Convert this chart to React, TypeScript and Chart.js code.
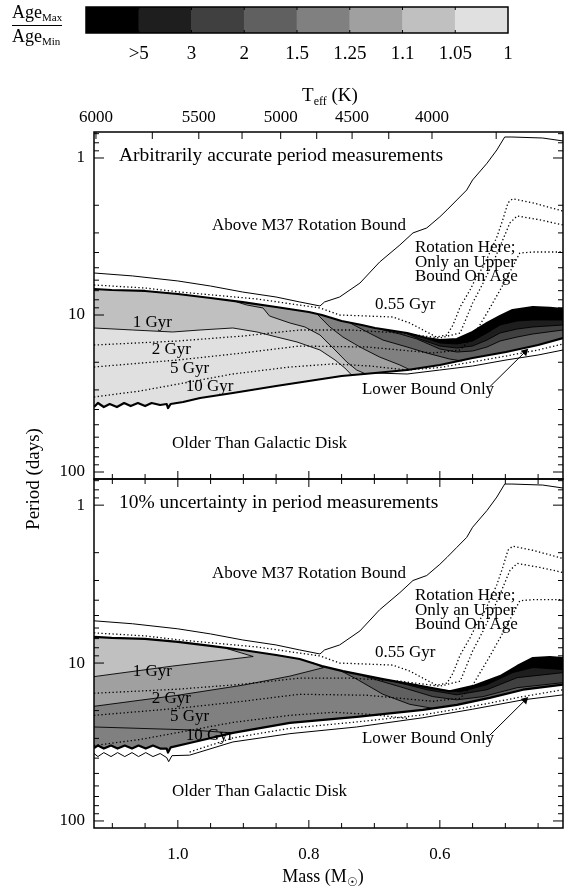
import React, { useEffect, useRef } from 'react';
import { Chart, registerables } from 'chart.js';

Chart.register(...registerables);

const SERIF = '"Liberation Serif", "Times New Roman", Times, serif';
type Pt = [number, number];

// ---------- axes ----------
const MASS_MIN = 0.412;
const MASS_MAX = 1.128;
const PERIOD_MIN = 0.683;
const PERIOD_MAX = 110.8;
const massTicks = [1.1, 1.05, 1.0, 0.95, 0.9, 0.85, 0.8, 0.75, 0.7, 0.65, 0.6, 0.55, 0.5, 0.45];
const massTickLabels = ['', '', '1.0', '', '', '', '0.8', '', '', '', '0.6', '', '', ''];
const teffTickMasses = [1.125, 1.039, 0.968, 0.902, 0.843, 0.788, 0.734, 0.678, 0.612, 0.514];
const teffTickLabels = ['6000', '', '5500', '', '5000', '', '4500', '', '4000', ''];
const periodTicks = [0.7, 0.8, 0.9, 1, 2, 3, 4, 5, 6, 7, 8, 9, 10, 20, 30, 40, 50, 60, 70, 80, 90, 100];
const periodMajor = [1, 10, 100];

// ---------- colour bar ----------
const ratioLabels = ['>5', '3', '2', '1.5', '1.25', '1.1', '1.05', '1'];
const ratioColors = ['#000000', '#1e1e1e', '#404040', '#606060', '#808080', '#a0a0a0', '#c0c0c0', '#e0e0e0'];

// ---------- curves shared by both panels (mass, period) ----------
const m37Bound: Pt[] = [[1.128, 5.4], [1.069, 5.64], [1.0, 6.07], [0.95, 6.54], [0.901, 7.14], [0.85, 7.68], [0.814, 8.26], [0.783, 8.76], [0.776, 8.26], [0.753, 7.68], [0.722, 6.26], [0.692, 4.6], [0.661, 3.58], [0.641, 3.0], [0.62, 2.79], [0.6, 2.37], [0.589, 2.14], [0.574, 1.85], [0.559, 1.6], [0.55, 1.38], [0.528, 1.08], [0.513, 0.889], [0.501, 0.735], [0.49, 0.735], [0.443, 0.746], [0.412, 0.779]];
const iso055: Pt[] = [[1.128, 6.44], [1.05, 6.73], [0.997, 7.14], [0.879, 7.91], [0.783, 9.02], [0.753, 10.0], [0.711, 10.15], [0.672, 10.3], [0.646, 11.24], [0.62, 12.83], [0.605, 13.81], [0.589, 13.41], [0.58, 11.58], [0.569, 8.89], [0.554, 6.93], [0.544, 5.73], [0.534, 4.94], [0.524, 4.03], [0.513, 3.19], [0.504, 2.48], [0.496, 1.93], [0.489, 1.82], [0.458, 1.93], [0.412, 2.18]];
const iso1: Pt[] = [[1.128, 15.53], [1.0, 14.64], [0.901, 13.61], [0.814, 12.46], [0.737, 12.46], [0.661, 13.02], [0.6, 14.01], [0.569, 13.02], [0.55, 8.39], [0.534, 6.26], [0.519, 4.66], [0.504, 3.33], [0.493, 2.59], [0.482, 2.34], [0.447, 2.48], [0.412, 2.67]];
const iso2: Pt[] = [[1.128, 21.44], [1.0, 19.35], [0.901, 17.46], [0.814, 15.76], [0.711, 15.99], [0.611, 17.46], [0.569, 16.71], [0.55, 13.81], [0.528, 9.71], [0.508, 6.93], [0.489, 4.94], [0.478, 4.03], [0.458, 3.97], [0.412, 3.97]];
const iso5: Pt[] = [[1.128, 33.27], [1.058, 30.5], [0.982, 26.7], [0.916, 23.76], [0.829, 21.44], [0.763, 20.5], [0.707, 21.13], [0.65, 22.41]];

// ---------- top panel (arbitrarily accurate periods) ----------
const topEdgeA: Pt[] = [[1.128, 6.83], [1.101, 6.93], [1.05, 7.03], [1.0, 7.35], [0.95, 7.79], [0.901, 8.27], [0.85, 8.89], [0.8, 9.57], [0.78, 10.0], [0.75, 10.92], [0.719, 11.58], [0.699, 12.1], [0.679, 12.46], [0.65, 13.02], [0.62, 14.01], [0.6, 14.43], [0.574, 14.22], [0.55, 12.83], [0.528, 11.24], [0.508, 10.15], [0.489, 9.3], [0.458, 8.89], [0.432, 9.02], [0.412, 9.16]];
const bottomEdgeA: Pt[] = [[1.128, 38.56], [1.122, 36.35], [1.113, 38.56], [1.104, 36.89], [1.093, 38.56], [1.082, 36.35], [1.072, 38.0], [1.061, 36.35], [1.05, 38.0], [1.04, 36.35], [1.027, 37.44], [1.017, 36.89], [1.015, 39.14], [1.011, 36.89], [0.992, 35.8], [0.966, 33.77], [0.916, 31.38], [0.85, 28.32], [0.8, 26.33], [0.75, 24.46], [0.699, 23.41], [0.65, 22.41], [0.6, 20.82], [0.55, 18.79], [0.499, 17.21], [0.45, 15.53], [0.412, 14.01]];
const lowerBoundA: Pt[] = [[0.699, 23.41], [0.65, 23.76], [0.6, 22.41], [0.55, 21.13], [0.499, 19.35], [0.45, 17.98], [0.412, 16.71]];
const lowerDotA: Pt[] = [[0.65, 22.41], [0.6, 21.6], [0.55, 19.9], [0.499, 18.25], [0.45, 16.7], [0.412, 15.3]];
const contA105: Pt[] = [[1.128, 12.1], [1.069, 12.46], [1.008, 12.83], [0.966, 12.46], [0.916, 12.1], [0.879, 12.83], [0.849, 13.81], [0.818, 14.86], [0.783, 16.71], [0.76, 19.35], [0.745, 21.76], [0.734, 24.3]];
const contA11: Pt[] = [[0.91, 8.26], [0.895, 8.63], [0.87, 9.02], [0.86, 10.15], [0.829, 11.24], [0.806, 11.92], [0.783, 13.41], [0.763, 16.23], [0.742, 19.93], [0.727, 22.41], [0.713, 23.76]];
const contA125: Pt[] = [[0.786, 10.0], [0.768, 11.92], [0.748, 13.81], [0.722, 15.99], [0.692, 18.52], [0.661, 20.82], [0.646, 22.3]];
const contA15: Pt[] = [[0.737, 11.24], [0.711, 12.83], [0.687, 14.43], [0.65, 15.99], [0.62, 17.46], [0.585, 19.07], [0.566, 19.64]];
const contA2: Pt[] = [[0.692, 12.28], [0.661, 13.21], [0.635, 14.22], [0.6, 16.47], [0.574, 17.21], [0.55, 16.96], [0.528, 15.99], [0.508, 14.64], [0.482, 13.81], [0.458, 13.21], [0.412, 12.46]];
const contA3: Pt[] = [[0.653, 13.0], [0.631, 14.22], [0.6, 15.76], [0.574, 16.23], [0.55, 15.76], [0.528, 14.43], [0.508, 13.02], [0.482, 12.28], [0.458, 11.92], [0.412, 11.58]];
const contA5: Pt[] = [[0.623, 14.01], [0.6, 15.08], [0.574, 15.3], [0.55, 14.64], [0.528, 13.02], [0.508, 11.58], [0.482, 10.92], [0.458, 10.76], [0.412, 10.76]];

// ---------- bottom panel (10% period uncertainty) ----------
const topEdgeB: Pt[] = [[1.128, 6.83], [1.101, 6.93], [1.05, 7.03], [1.0, 7.35], [0.95, 7.79], [0.901, 8.27], [0.85, 8.89], [0.814, 9.43], [0.78, 10.45], [0.748, 11.24], [0.687, 12.64], [0.62, 14.22], [0.585, 15.08], [0.55, 14.01], [0.508, 12.1], [0.482, 10.45], [0.458, 9.3], [0.432, 9.16], [0.412, 9.3]];
const bottomEdgeB: Pt[] = [[1.128, 34.5], [1.122, 33.3], [1.113, 34.8], [1.102, 33.3], [1.092, 34.8], [1.081, 33.3], [1.07, 34.8], [1.06, 33.3], [1.049, 34.8], [1.038, 33.3], [1.027, 34.8], [1.017, 34.8], [1.015, 36.9], [1.011, 34.2], [0.982, 32.1], [0.916, 27.7], [0.829, 23.9], [0.727, 21.9], [0.626, 19.8], [0.574, 18.4], [0.524, 16.6], [0.473, 14.75], [0.412, 13.7]];
const lowerBoundB: Pt[] = [[1.128, 37.4], [1.122, 39.1], [1.113, 36.9], [1.102, 39.1], [1.092, 36.9], [1.081, 39.1], [1.07, 36.9], [1.06, 39.1], [1.049, 36.9], [1.038, 39.1], [1.027, 37.4], [1.017, 39.7], [1.014, 42.1], [1.009, 38.6], [0.982, 38.3], [0.916, 31.6], [0.829, 28.0], [0.727, 25.4], [0.626, 22.2], [0.55, 19.6], [0.473, 17.1], [0.412, 15.9]];
const lowerDotB: Pt[] = [[0.982, 36.6], [0.916, 29.8], [0.829, 25.9], [0.727, 23.6], [0.626, 21.3], [0.55, 18.8], [0.473, 16.3], [0.412, 14.75]];
const wedgeB105: Pt[] = [[0.928, 8.03], [0.885, 9.09], [1.008, 10.45], [1.128, 12.19]];
const wedgeB11: Pt[] = [[0.795, 9.9], [0.778, 10.7], [0.829, 12.1], [0.901, 13.81], [1.0, 15.99], [1.128, 18.79]];
const contB125: Pt[] = [[1.128, 25.4], [0.982, 26.5], [0.916, 27.7]];
const contB15: Pt[] = [[0.753, 11.1], [0.727, 12.64], [0.687, 15.76], [0.646, 18.25], [0.611, 19.35]];
const contB2: Pt[] = [[0.722, 11.9], [0.661, 14.12], [0.611, 16.3], [0.574, 17.1], [0.534, 16.3], [0.482, 14.32], [0.412, 13.31]];
const contB3: Pt[] = [[0.676, 12.9], [0.62, 14.75], [0.574, 15.9], [0.528, 14.75], [0.482, 12.37], [0.412, 11.5]];
const contB5: Pt[] = [[0.646, 13.5], [0.6, 14.75], [0.569, 15.19], [0.528, 13.7], [0.489, 11.5], [0.458, 10.68], [0.412, 11.0]];

// ---------- annotations ----------
const panelTitles = ['Arbitrarily accurate period measurements', '10% uncertainty in period measurements'];
const panelTitleAt: Pt = [1.09, 0.97];
const plotLabels: [string, number, number][] = [
  ['Above M37 Rotation Bound', 0.948, 2.71],
  ['Rotation Here;', 0.638, 3.74],
  ['Only an Upper', 0.638, 4.63],
  ['Bound On Age', 0.638, 5.73],
  ['0.55 Gyr', 0.699, 8.63],
  ['1 Gyr', 1.069, 11.24],
  ['2 Gyr', 1.04, 16.7],
  ['5 Gyr', 1.012, 21.8],
  ['10 Gyr', 0.988, 28.7],
  ['Lower Bound Only', 0.719, 30.0],
  ['Older Than Galactic Disk', 1.009, 65.4],
];
const arrowLine: Pt[] = [[0.524, 28.7], [0.47, 17.2]];

// ---------- helpers ----------
const toXY = (pts: Pt[]) => pts.map(([x, y]) => ({ x, y }));
function rightOf(c: Pt[], top: Pt[], bottom: Pt[] | null): Pt[] {
  const s = c[0][0];
  const e = c[c.length - 1][0];
  return [
    ...top.filter((p) => p[0] <= s),
    ...(bottom ? bottom.filter((p) => p[0] < e).reverse() : []),
    ...c.slice().reverse(),
  ];
}
const wedge = (w: Pt[], top: Pt[]): Pt[] => [...top.filter((p) => p[0] >= w[0][0]), ...w];
const whole = (top: Pt[], bottom: Pt[]): Pt[] => [...top, ...bottom.slice().reverse()];

function fillDs(poly: Pt[], color: string) {
  return { data: toXY(poly), fill: 'shape', backgroundColor: color, borderColor: 'rgba(0,0,0,0)', borderWidth: 0, pointRadius: 0 };
}
function lineDs(pts: Pt[], width: number, dash: number[] = []) {
  return { data: toXY(pts), fill: false, borderColor: '#000', backgroundColor: '#000', borderWidth: width, borderDash: dash, pointRadius: 0, borderCapStyle: 'butt', borderJoinStyle: 'round' };
}
const DOT = [1.3, 2.4];

function arrowDs() {
  return { data: toXY(arrowLine), fill: false, borderColor: '#000', backgroundColor: '#000', borderWidth: 1, pointRadius: [0, 4.5], pointStyle: 'triangle', rotation: 45, pointBackgroundColor: '#000', pointBorderWidth: 0 };
}

function panelDatasets(isTop: boolean) {
  let ds: any[];
  if (isTop) {
    const T = topEdgeA, B = bottomEdgeA;
    ds = [
      fillDs(whole(T, B), ratioColors[7]),
      fillDs(rightOf(contA105, T, B), ratioColors[6]),
      fillDs(rightOf(contA11, T, B), ratioColors[5]),
      fillDs(rightOf(contA125, T, B), ratioColors[4]),
      fillDs(rightOf(contA15, T, B), ratioColors[3]),
      fillDs(rightOf(contA2, T, null), ratioColors[2]),
      fillDs(rightOf(contA3, T, null), ratioColors[1]),
      fillDs(rightOf(contA5, T, null), ratioColors[0]),
      ...[contA105, contA11, contA125, contA15, contA2, contA3, contA5].map((c) => lineDs(c, 0.9)),
      lineDs(iso055, 1.3, DOT), lineDs(iso1, 1.3, DOT), lineDs(iso2, 1.3, DOT), lineDs(iso5, 1.3, DOT),
      lineDs(lowerDotA, 1.3, DOT),
      lineDs(lowerBoundA, 1),
      lineDs(m37Bound, 1),
      lineDs(T, 2.2), lineDs(B, 2.2),
      arrowDs(),
    ];
  } else {
    const T = topEdgeB, B = bottomEdgeB;
    ds = [
      fillDs(whole(T, B), ratioColors[4]),
      fillDs(wedge(wedgeB11, T), ratioColors[5]),
      fillDs(wedge(wedgeB105, T), ratioColors[6]),
      fillDs(rightOf(contB15, T, B), ratioColors[3]),
      fillDs(rightOf(contB2, T, null), ratioColors[2]),
      fillDs(rightOf(contB3, T, null), ratioColors[1]),
      fillDs(rightOf(contB5, T, null), ratioColors[0]),
      ...[wedgeB105, wedgeB11, contB125, contB15, contB2, contB3, contB5].map((c) => lineDs(c, 0.9)),
      lineDs(iso055, 1.3, DOT), lineDs(iso1, 1.3, DOT), lineDs(iso2, 1.3, DOT), lineDs(iso5, 1.3, DOT),
      lineDs(lowerDotB, 1.3, DOT),
      lineDs(lowerBoundB, 1),
      lineDs(m37Bound, 1),
      lineDs(T, 2.2), lineDs(B, 2.2),
      arrowDs(),
    ];
  }
  return ds.map((d, i) => ({ ...d, order: 1000 - i }));
}

function panelPlugin(isTop: boolean) {
  return {
    id: isTop ? 'decoTop' : 'decoBottom',
    afterDatasetsDraw(chart: any) {
      const { ctx, chartArea: a } = chart;
      const x = chart.scales.x;
      const y = chart.scales.y;
      ctx.save();
      ctx.strokeStyle = '#000';
      ctx.lineWidth = 1.5;
      ctx.strokeRect(a.left, a.top, a.right - a.left, a.bottom - a.top);
      ctx.lineWidth = 1;
      ctx.beginPath();
      for (const v of periodTicks) {
        const py = y.getPixelForValue(v);
        if (py < a.top || py > a.bottom) continue;
        const L = periodMajor.includes(v) ? 10 : 5;
        ctx.moveTo(a.left, py); ctx.lineTo(a.left + L, py);
        ctx.moveTo(a.right, py); ctx.lineTo(a.right - L, py);
      }
      massTicks.forEach((v, i) => {
        const px = x.getPixelForValue(v);
        const L = massTickLabels[i] ? 8 : 5;
        ctx.moveTo(px, a.bottom); ctx.lineTo(px, a.bottom - L);
        if (!isTop) { ctx.moveTo(px, a.top); ctx.lineTo(px, a.top + L); }
      });
      if (isTop) {
        teffTickMasses.forEach((v) => {
          const px = x.getPixelForValue(v);
          ctx.moveTo(px, a.top); ctx.lineTo(px, a.top + 7);
        });
      }
      ctx.stroke();

      ctx.fillStyle = '#000';
      ctx.textAlign = 'left';
      ctx.textBaseline = 'middle';
      ctx.font = `19.5px ${SERIF}`;
      ctx.fillText(panelTitles[isTop ? 0 : 1], x.getPixelForValue(panelTitleAt[0]), y.getPixelForValue(panelTitleAt[1]));
      ctx.font = `17px ${SERIF}`;
      for (const [t, m, p] of plotLabels) {
        ctx.fillText(t, x.getPixelForValue(m), y.getPixelForValue(p));
      }
      ctx.restore();
    },
    afterDraw(chart: any) {
      const { ctx } = chart;
      ctx.save();
      ctx.fillStyle = '#000';
      ctx.textBaseline = 'middle';
      if (isTop) {
        // T_eff (K)
        const big = `19px ${SERIF}`, small = `12px ${SERIF}`;
        ctx.font = big; const w1 = ctx.measureText('T').width;
        ctx.font = small; const w2 = ctx.measureText('eff').width;
        ctx.font = big; const w3 = ctx.measureText(' (K)').width;
        let x0 = 330 - (w1 + w2 + w3) / 2;
        ctx.textAlign = 'left';
        ctx.font = big; ctx.fillText('T', x0, 96); x0 += w1;
        ctx.font = small; ctx.fillText('eff', x0, 102); x0 += w2;
        ctx.font = big; ctx.fillText(' (K)', x0, 96);
      } else {
        const big = `18px ${SERIF}`, small = `12px ${SERIF}`;
        ctx.font = big; const w1 = ctx.measureText('Mass (M').width;
        ctx.font = small; const w2 = ctx.measureText('\u2609').width;
        ctx.font = big; const w3 = ctx.measureText(')').width;
        let x0 = 323 - (w1 + w2 + w3) / 2;
        ctx.textAlign = 'left';
        ctx.font = big; ctx.fillText('Mass (M', x0, 877); x0 += w1;
        ctx.font = small; ctx.fillText('\u2609', x0, 883); x0 += w2;
        ctx.font = big; ctx.fillText(')', x0, 877);
        // Period (days)
        ctx.save();
        ctx.translate(34, 479);
        ctx.rotate(-Math.PI / 2);
        ctx.textAlign = 'center';
        ctx.font = `19px ${SERIF}`;
        ctx.fillText('Period (days)', 0, 0);
        ctx.restore();
      }
      ctx.restore();
    },
  };
}

function panelConfig(isTop: boolean): any {
  const tickFont = { family: SERIF, size: 17 };
  const scales: any = {
    x: {
      type: 'linear', min: MASS_MIN, max: MASS_MAX, reverse: true, position: 'bottom',
      grid: { display: false }, border: { display: false },
      afterBuildTicks: (s: any) => { s.ticks = massTicks.map((v) => ({ value: v })); },
      ticks: { display: !isTop, autoSkip: false, maxRotation: 0, padding: 8, color: '#000', font: tickFont, callback: (_v: any, i: number) => massTickLabels[i] },
      afterFit: (s: any) => { s.height = isTop ? 413 : 64; },
    },
    y: {
      type: 'logarithmic', min: PERIOD_MIN, max: PERIOD_MAX, reverse: true, position: 'left',
      grid: { display: false }, border: { display: false },
      afterBuildTicks: (s: any) => { s.ticks = periodTicks.map((v) => ({ value: v })); },
      ticks: { autoSkip: false, padding: 1, color: '#000', font: tickFont, callback: (v: any) => (periodMajor.includes(Number(v)) ? String(v) : '') },
      afterFit: (s: any) => { s.width = 94; },
    },
  };
  if (isTop) {
    scales.xt = {
      type: 'linear', min: MASS_MIN, max: MASS_MAX, reverse: true, position: 'top',
      grid: { display: false }, border: { display: false },
      afterBuildTicks: (s: any) => { s.ticks = teffTickMasses.map((v) => ({ value: v })); },
      ticks: { autoSkip: false, maxRotation: 0, padding: -4, color: '#000', font: tickFont, callback: (_v: any, i: number) => teffTickLabels[i] },
      afterFit: (s: any) => { s.height = 132; },
    };
  }
  return {
    type: 'line',
    data: { datasets: panelDatasets(isTop) },
    options: {
      animation: false, responsive: false, devicePixelRatio: 1, events: [],
      layout: { padding: { left: 0, right: 16, top: isTop ? 0 : 479, bottom: 0 } },
      plugins: { legend: { display: false }, tooltip: { enabled: false } },
      scales,
    },
    plugins: [panelPlugin(isTop)],
  };
}

function colorbarConfig(): any {
  return {
    type: 'bar',
    data: {
      labels: ratioLabels,
      datasets: [{ data: ratioLabels.map(() => 1), backgroundColor: ratioColors, barPercentage: 1, categoryPercentage: 1, borderWidth: 0, xAxisID: 'x', yAxisID: 'y' }],
    },
    options: {
      animation: false, responsive: false, devicePixelRatio: 1, events: [],
      layout: { padding: { left: 86, right: 71, top: 7, bottom: 37 } },
      plugins: { legend: { display: false }, tooltip: { enabled: false } },
      scales: {
        x: { type: 'category', display: false },
        y: { display: false, min: 0, max: 1 },
      },
    },
    plugins: [{
      id: 'cbDeco',
      afterDraw(chart: any) {
        const { ctx, chartArea: a } = chart;
        const cell = (a.right - a.left) / ratioLabels.length;
        ctx.save();
        ctx.strokeStyle = '#000';
        ctx.lineWidth = 1.5;
        ctx.strokeRect(a.left, a.top, a.right - a.left, a.bottom - a.top);
        ctx.lineWidth = 1;
        ctx.beginPath();
        for (let i = 1; i < ratioLabels.length; i++) {
          const px = a.left + i * cell;
          ctx.moveTo(px, a.top); ctx.lineTo(px, a.top + 3);
          ctx.moveTo(px, a.bottom); ctx.lineTo(px, a.bottom - 3);
        }
        ctx.stroke();
        ctx.fillStyle = '#000';
        ctx.textBaseline = 'middle';
        // level labels at the right edge of each cell
        ctx.textAlign = 'center';
        ctx.font = `19px ${SERIF}`;
        ratioLabels.forEach((t, i) => {
          ctx.fillText(t, a.left + (i + 1) * cell, 54);
        });
        // Age_Max / Age_Min
        ctx.textAlign = 'left';
        ctx.font = `18px ${SERIF}`;
        const wA = ctx.measureText('Age').width;
        ctx.fillText('Age', 12, 13);
        ctx.fillText('Age', 12, 37);
        ctx.font = `11px ${SERIF}`;
        ctx.fillText('Max', 12 + wA, 18);
        ctx.fillText('Min', 12 + wA, 42);
        ctx.lineWidth = 1;
        ctx.beginPath();
        ctx.moveTo(12, 25.5); ctx.lineTo(62, 25.5);
        ctx.stroke();
        ctx.restore();
      },
    }],
  };
}

export default function App() {
  const cbRef = useRef<HTMLCanvasElement>(null);
  const topRef = useRef<HTMLCanvasElement>(null);
  const botRef = useRef<HTMLCanvasElement>(null);
  useEffect(() => {
    const charts = [
      new Chart(topRef.current as HTMLCanvasElement, panelConfig(true)),
      new Chart(botRef.current as HTMLCanvasElement, panelConfig(false)),
      new Chart(cbRef.current as HTMLCanvasElement, colorbarConfig()),
    ];
    return () => charts.forEach((c) => c.destroy());
  }, []);
  const abs: React.CSSProperties = { position: 'absolute', left: 0, top: 0 };
  return (
    <div style={{ position: 'absolute', left: 0, top: 0, width: 579, height: 892, background: '#fff', overflow: 'hidden' }}>
      <canvas ref={topRef} width={579} height={892} style={abs} />
      <canvas ref={botRef} width={579} height={892} style={abs} />
      <canvas ref={cbRef} width={579} height={70} style={abs} />
    </div>
  );
}
